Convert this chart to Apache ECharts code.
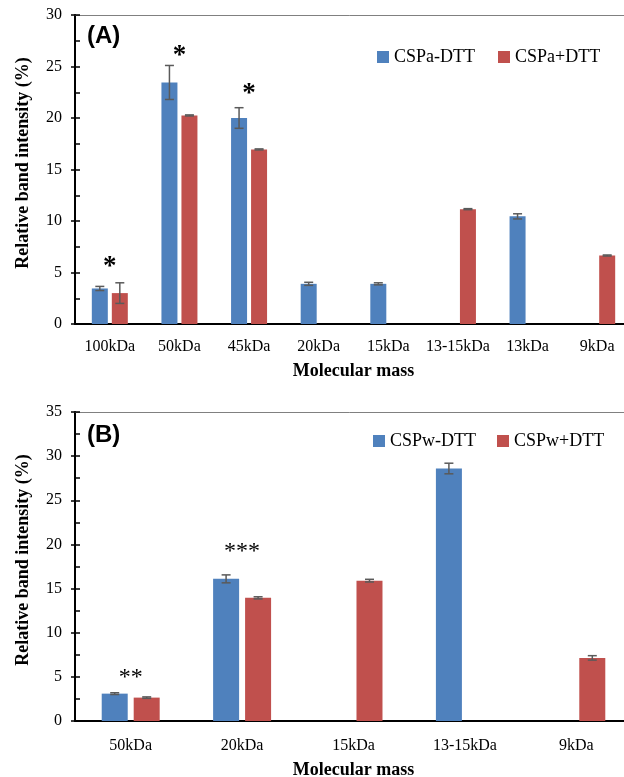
<!DOCTYPE html>
<html><head><meta charset="utf-8">
<script src="https://cdn.jsdelivr.net/npm/echarts@6/dist/echarts.min.js"></script>
<style>html,body{margin:0;padding:0;background:#fff}#c{width:624px;height:777px}</style>
</head><body><div id="c"></div>
<script>
// ---- Panel A data ----
const catsA = ['100kDa','50kDa','45kDa','20kDa','15kDa','13-15kDa','13kDa','9kDa'];
const minusA = [3.45, 23.45, 20.0, 3.9, 3.9, null, 10.45, null];
const minusErrA = [0.2, 1.65, 1.0, 0.15, 0.1, null, 0.25, null];
const plusA = [3.0, 20.25, 16.95, null, null, 11.15, null, 6.65];
const plusErrA = [1.0, 0.05, 0.05, null, null, 0.05, null, 0.05];
const sigCatsA = ['100kDa','50kDa','45kDa'];
const sigTextA = ['*','*','*'];
const sigYA = [5.5, 26.0, 22.3];
const yTicksA = [0, 30, 5];

// ---- Panel B data ----
const catsB = ['50kDa','20kDa','15kDa','13-15kDa','9kDa'];
const minusB = [3.1, 16.1, null, 28.6, null];
const minusErrB = [0.1, 0.45, null, 0.6, null];
const plusB = [2.65, 13.95, 15.9, null, 7.15];
const plusErrB = [0.08, 0.12, 0.15, null, 0.25];
const sigCatsB = ['50kDa','20kDa'];
const sigTextB = ['**','***'];
const sigYB = [4.9, 19.2];
const yTicksB = [0, 35, 5];

const namesA = ['CSPa-DTT','CSPa+DTT'];
const namesB = ['CSPw-DTT','CSPw+DTT'];

const SERIF = '"Liberation Serif","Times New Roman",serif';
const SANS = '"Liberation Sans",Arial,sans-serif';
const BLUE = '#4F81BD', RED = '#C0504D', ERR = '#5a5a5a';

function yAxes(grid, t) {
  return [
    {type:'value', gridIndex:grid, min:t[0], max:t[1], interval:t[2], position:'left',
     axisLine:{show:true, lineStyle:{color:'#000', width:2}},
     axisTick:{show:true, inside:true, length:5, lineStyle:{color:'#000', width:1.5}},
     minorTick:{show:true, splitNumber:2, length:5, lineStyle:{color:'#000', width:1.5}},
     splitLine:{show:false}, minorSplitLine:{show:false},
     axisLabel:{margin:13, color:'#000', fontFamily:SERIF, fontSize:16}},
    {type:'value', gridIndex:grid, min:t[0], max:t[1], interval:t[2], position:'left', offset:0,
     axisLine:{show:false},
     axisTick:{show:true, inside:false, length:4, lineStyle:{color:'#000', width:1.5}},
     axisLabel:{show:false}, splitLine:{show:false}}
  ];
}
function xAxes(grid, cats, margin, gap) {
  return [
    {type:'category', gridIndex:grid, data:cats, position:'bottom',
     axisLine:{show:true, onZero:false, lineStyle:{color:'#000', width:2}}, axisTick:{show:false},
     axisLabel:{interval:0, margin:margin, color:'#000', fontFamily:SERIF, fontSize:16},
     name:'Molecular mass', nameLocation:'middle', nameGap:gap,
     nameTextStyle:{fontFamily:SERIF, fontSize:18, fontWeight:'bold', color:'#000'}},
    {type:'category', gridIndex:grid, data:cats, position:'top',
     axisLine:{show:true, onZero:false, lineStyle:{color:'#808080', width:1}},
     axisTick:{show:false}, axisLabel:{show:false}}
  ];
}
function errSeries(xi, yi, vals, errs, off) {
  const data = [];
  vals.forEach((v, i) => { if (v != null) data.push([i, v, errs[i]]); });
  return {
    type:'custom', xAxisIndex:xi, yAxisIndex:yi, z:5, silent:true,
    data:data,
    renderItem:function(params, api){
      const i = api.value(0), v = api.value(1), e = api.value(2);
      const top = api.coord([i, v + e]);
      const bot = api.coord([i, v - e]);
      const x = top[0] + off, cap = 4.5;
      const ls = {stroke:ERR, lineWidth:1.5};
      return {type:'group', children:[
        {type:'line', shape:{x1:x, y1:top[1], x2:x, y2:bot[1]}, style:ls},
        {type:'line', shape:{x1:x-cap, y1:top[1], x2:x+cap, y2:top[1]}, style:ls},
        {type:'line', shape:{x1:x-cap, y1:bot[1], x2:x+cap, y2:bot[1]}, style:ls}
      ]};
    }
  };
}
function sigSeries(xi, yi, cats, sc, st, sy, font) {
  return {
    type:'custom', xAxisIndex:xi, yAxisIndex:yi, z:6, silent:true,
    data: sc.map((c, k) => [cats.indexOf(c), sy[k]]),
    renderItem:function(params, api){
      const p = api.coord([api.value(0), api.value(1)]);
      return {type:'text', x:p[0], y:p[1],
        style:{text:st[params.dataIndex], font:font, fill:'#000',
               align:'center', verticalAlign:'middle', textAlign:'center', textVerticalAlign:'middle'}};
    }
  };
}

const legendStyle = {fontFamily:SERIF, fontSize:18, color:'#000'};

const option = {
  animation:false,
  backgroundColor:'#fff',
  grid:[
    {left:75, top:15, width:557, height:309, outerBoundsMode:'none', containLabel:false},
    {left:75, top:412, width:557, height:309, outerBoundsMode:'none', containLabel:false}
  ],
  xAxis: xAxes(0, catsA, 15, 38).concat(xAxes(1, catsB, 17, 40)),
  yAxis: yAxes(0, yTicksA).concat(yAxes(1, yTicksB)),
  legend:[
    {data:namesA, left:372, top:43, itemWidth:12, itemHeight:12, itemGap:23, icon:'rect',
     textStyle:legendStyle, selectedMode:false},
    {data:namesB, left:368, top:427, itemWidth:12, itemHeight:12, itemGap:21, icon:'rect',
     textStyle:legendStyle, selectedMode:false}
  ],
  graphic:[
    {type:'text', x:87, y:36, style:{text:'(A)', font:'bold 24px ' + SANS, fill:'#000',
      verticalAlign:'middle', textVerticalAlign:'middle'}},
    {type:'text', x:87, y:435, style:{text:'(B)', font:'bold 24px ' + SANS, fill:'#000',
      verticalAlign:'middle', textVerticalAlign:'middle'}},
    {type:'text', x:23, y:163, rotation:Math.PI/2, style:{text:'Relative band intensity (%)',
      font:'bold 18px ' + SERIF, fill:'#000', align:'center', verticalAlign:'middle',
      textAlign:'center', textVerticalAlign:'middle'}},
    {type:'text', x:23, y:560, rotation:Math.PI/2, style:{text:'Relative band intensity (%)',
      font:'bold 18px ' + SERIF, fill:'#000', align:'center', verticalAlign:'middle',
      textAlign:'center', textVerticalAlign:'middle'}}
  ],
  series:[
    {name:namesA[0], type:'bar', xAxisIndex:0, yAxisIndex:0, data:minusA, barWidth:16, barGap:'25%',
     itemStyle:{color:BLUE}},
    {name:namesA[1], type:'bar', xAxisIndex:0, yAxisIndex:0, data:plusA, barWidth:16, barGap:'25%',
     itemStyle:{color:RED}},
    errSeries(0, 0, minusA, minusErrA, -10),
    errSeries(0, 0, plusA, plusErrA, 10),
    sigSeries(0, 0, catsA, sigCatsA, sigTextA, sigYA, 'bold 27px ' + SERIF),
    {name:namesB[0], type:'bar', xAxisIndex:2, yAxisIndex:2, data:minusB, barWidth:26, barGap:'23%',
     itemStyle:{color:BLUE}},
    {name:namesB[1], type:'bar', xAxisIndex:2, yAxisIndex:2, data:plusB, barWidth:26, barGap:'23%',
     itemStyle:{color:RED}},
    errSeries(2, 2, minusB, minusErrB, -16),
    errSeries(2, 2, plusB, plusErrB, 16),
    sigSeries(2, 2, catsB, sigCatsB, sigTextB, sigYB, '24px ' + SERIF)
  ]
};
const chart = echarts.init(document.getElementById('c'), null, {renderer:'canvas'});
chart.setOption(option);
</script>
</body></html>
